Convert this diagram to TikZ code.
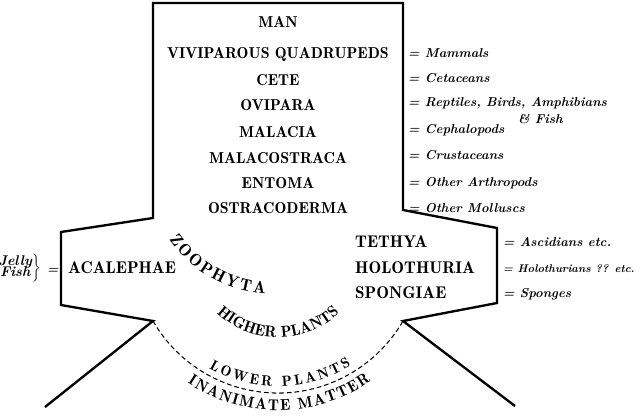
\documentclass[tikz,border=0pt]{standalone}
\usepackage{fontspec}
\newfontfamily\demi[Extension=.otf]{lmromandemi10-regular}
\usetikzlibrary{calc,decorations.text}
\tikzset{
	taxon/.style={anchor=base, inner sep=0pt, font=\demi\fontsize{13.5}{16}\selectfont},
	lowtaxon/.style={anchor=base west, inner sep=0pt, font=\demi\fontsize{14.5}{17}\selectfont},
	gloss/.style={anchor=base west, inner sep=0pt, font=\fontsize{11}{14}\selectfont\bfseries\itshape},
	outline/.style={line width=2pt},
	bend/.style={decorate, decoration={text along path, text={#1}}},
}
\begin{document}
\begin{tikzpicture}[x=0.03cm,y=-0.03cm]
			%%%%% START %%%%%
			\def\cx{278}
			\def\cy{248.5}
			\def\lx{61}
			\def\rx{497}
			\def\gx{408}
			\def\hx{503}
			\def\radds{144.5}
			\useasboundingbox (0,0) rectangle (640,415);
			
			\coordinate (cen) at (\cx,\cy);
			\coordinate (zc) at (272,170);
			\coordinate (ll) at (45,407);
			\coordinate (li) at (153,321);
			\coordinate (lb) at (\lx,305);
			\coordinate (lt) at (\lx,232);
			\coordinate (ls) at (153,218);
			\coordinate (tl) at (153,3);
			\coordinate (tr) at (403,3);
			\coordinate (rs) at (403,210);
			\coordinate (rt) at (\rx,228);
			\coordinate (rb) at (\rx,303);
			\coordinate (ri) at (403,321);
			\coordinate (rl) at (515,406);
			
			\draw[outline] (ll) -- (li) -- (lb) -- (lt) -- (ls) -- (tl) -- (tr) -- (rs) -- (rt) -- (rb) -- (ri) -- (rl);
			\draw[line width=0.9pt, dash pattern=on 4pt off 2.5pt] (li) arc[start angle=149.9, end angle=30.1, radius=\radds];
			
			\node[taxon] (man) at (\cx,27) {MAN};
			\node[taxon] (vivi) at (\cx,58) {VIVIPAROUS QUADRUPEDS};
			\node[taxon] (cete) at (\cx,85) {CETE};
			\node[taxon] (ovip) at (\cx,110) {OVIPARA};
			\node[taxon] (mala) at (\cx,137) {MALACIA};
			\node[taxon] (malc) at (\cx,163) {MALACOSTRACA};
			\node[taxon] (ento) at (\cx,188) {ENTOMA};
			\node[taxon] (ostr) at (\cx,213) {OSTRACODERMA};
			
			\node[gloss] (gvivi) at (\gx,57) {= Mammals};
			\node[gloss] (gcete) at (\gx,82) {= Cetaceans};
			\node[gloss] (govip) at (\gx,106) {= Reptiles, Birds, Amphibians};
			\node[gloss] (gfish) at (518,123) {\& Fish};
			\node[gloss] (gmala) at (\gx,133) {= Cephalopods};
			\node[gloss] (gmalc) at (\gx,159) {= Crustaceans};
			\node[gloss] (gento) at (\gx,186) {= Other Arthropods};
			\node[gloss] (gostr) at (\gx,212) {= Other Molluscs};
			
			\node[lowtaxon] (acal) at (68,273) {ACALEPHAE};
			\node[lowtaxon] (teth) at (355,247) {TETHYA};
			\node[lowtaxon] (holo) at (355,273) {HOLOTHURIA};
			\node[lowtaxon] (spon) at (355,298) {SPONGIAE};
			
			\node[gloss] (gteth) at (\hx,246) {= Ascidians etc.};
			\node[gloss, font=\fontsize{9.5}{12}\selectfont\bfseries\itshape] (gholo) at (\hx,272) {= Holothurians ?? etc.};
			\node[gloss] (gspon) at (\hx,297) {= Sponges};
			
			\node[gloss, anchor=east, font=\fontsize{12}{13}\selectfont\bfseries\itshape] (jelly) at (41,268) {$\left.\begin{tabular}{@{}c@{}}Jelly\\[-4pt]Fish\end{tabular}\right\}$};
			\node[gloss] (gacal) at (47,273) {=};
			
			\path[bend={|\demi\fontsize{14.5}{17}\selectfont|ZOOPHYTA}, decoration={text align={fit to path}}] (zc) ++(146:124) arc[start angle=146, end angle=93, radius=124];
			\path[bend={|\demi\fontsize{13.5}{16}\selectfont|HIGHER PLANTS}, decoration={text align=center}] (cen) ++(160:89) arc[start angle=160, end angle=20, radius=89];
			\path[bend={|\demi\fontsize{12.5}{15}\selectfont|LOWER PLANTS}, decoration={text align={fit to path}}] (cen) ++(120:138) arc[start angle=120, end angle=58, radius=138];
			\path[bend={|\demi\fontsize{13.5}{16}\selectfont|INANIMATE MATTER}, decoration={text align={fit to path}}] (cen) ++(124:162) arc[start angle=124, end angle=55, radius=162];
			%%%%% END %%%%%
\end{tikzpicture}
\end{document}
